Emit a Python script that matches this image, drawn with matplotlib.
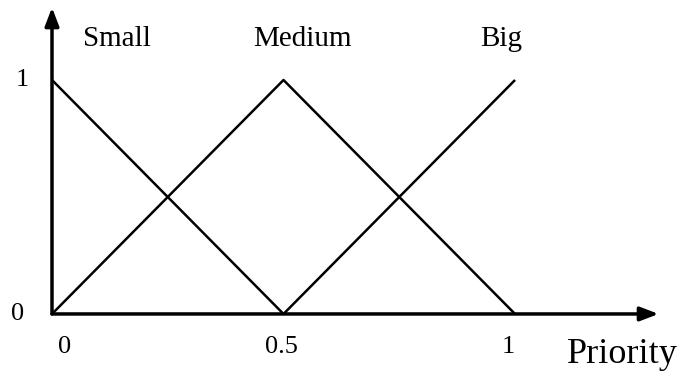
import matplotlib
matplotlib.use("Agg")
import matplotlib.pyplot as plt

# membership functions (priority -> degree)
small_x = [0, 0.5]
small_y = [1, 0]
medium_x = [0, 0.5, 1]
medium_y = [0, 1, 0]
big_x = [0.5, 1]
big_y = [0, 1]

set_names = ["Small", "Medium", "Big"]
name_pos = [0.14, 0.54, 0.97]
xtick_vals = [0, 0.5, 1]
xtick_labels = ["0", "0.5", "1"]
ytick_vals = [0, 1]
ytick_labels = ["0", "1"]

plt.rcParams['font.family'] = ['Liberation Serif', 'DejaVu Serif']

fig = plt.figure(figsize=(6.97, 3.79), dpi=100)
ax = fig.add_axes([0, 0, 1, 1])
ax.set_xlim(-0.1123, 1.393)
ax.set_ylim(-0.278, 1.342)
ax.axis('off')

lw = 1.8
for xs, ys in [(small_x, small_y), (medium_x, medium_y), (big_x, big_y)]:
    ax.plot(xs, ys, color='black', lw=lw, solid_capstyle='butt')

# axes with arrows
arrow = dict(arrowstyle='-|>,head_length=1.1,head_width=0.42', color='black', lw=2.5,
             shrinkA=0, shrinkB=0)
ax.annotate('', xy=(1.31, 0), xytext=(0, 0), arrowprops=arrow)
ax.annotate('', xy=(0, 1.31), xytext=(0, 0), arrowprops=arrow)

for name, px in zip(set_names, name_pos):
    ax.text(px, 1.175, name, fontsize=21, ha='center', va='center')

# tick labels sit slightly off the tick values in the original
xtick_shift = [0.028, -0.004, -0.015]
for v, lab, dx in zip(xtick_vals, xtick_labels, xtick_shift):
    ax.text(v + dx, -0.14, lab, fontsize=19, ha='center', va='center')
ytick_shift = [-0.075, -0.065]
for v, lab, dx in zip(ytick_vals, ytick_labels, ytick_shift):
    ax.text(dx, v, lab, fontsize=19, ha='center', va='center')

ax.text(1.113, -0.175, "Priority", fontsize=26, ha='left', va='center')

fig.savefig("out.png", dpi=100)
